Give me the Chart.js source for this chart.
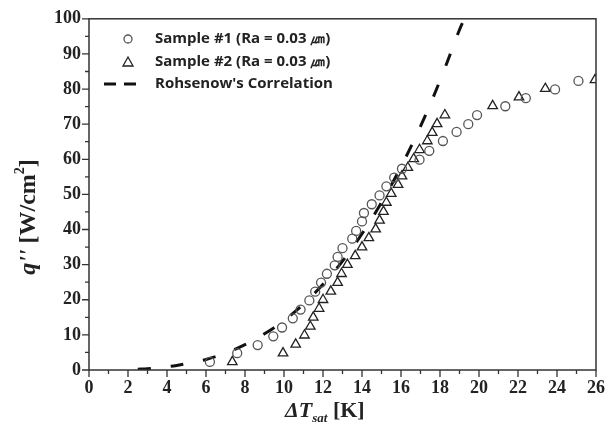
<!DOCTYPE html>
<html>
<head>
<meta charset="utf-8">
<script src="https://cdn.jsdelivr.net/npm/chart.js@4/dist/chart.umd.min.js"></script>
<style>
  body { margin: 0; background: #fff; }
  canvas { display: block; }
</style>
</head>
<body>
<canvas id="boilingChart" width="616" height="438"></canvas>
<script>
// Sample #1 (circles)
const dT1 = [6.2, 7.6, 8.65, 9.45, 9.9, 10.45, 10.85, 11.3, 11.6, 11.9, 12.2, 12.6, 12.75, 13.0, 13.5, 13.7, 14.0, 14.1, 14.5, 14.9, 15.25, 15.65, 16.05, 16.95, 17.45, 18.15, 18.85, 19.45, 19.9, 21.35, 22.4, 23.9, 25.1];
const q1 = [2.3, 4.8, 7.1, 9.6, 12.1, 14.7, 17.2, 19.8, 22.3, 24.9, 27.4, 29.8, 32.2, 34.7, 37.4, 39.6, 42.3, 44.7, 47.2, 49.7, 52.3, 54.8, 57.3, 59.9, 62.4, 65.2, 67.8, 70.0, 72.6, 75.1, 77.4, 79.9, 82.3];

// Sample #2 (triangles)
const dT2 = [7.35, 9.95, 10.6, 11.05, 11.35, 11.5, 11.8, 12.0, 12.4, 12.75, 12.95, 13.25, 13.65, 14.0, 14.35, 14.7, 14.9, 15.1, 15.25, 15.5, 15.85, 16.05, 16.35, 16.65, 16.95, 17.35, 17.6, 17.85, 18.25, 20.7, 22.05, 23.4, 25.95];
const q2 = [2.3, 4.8, 7.3, 9.9, 12.4, 15.0, 17.5, 20.0, 22.4, 24.9, 27.4, 30.0, 32.5, 35.0, 37.6, 40.1, 42.6, 45.1, 47.7, 50.2, 52.8, 55.2, 57.6, 60.1, 62.7, 65.2, 67.6, 70.1, 72.6, 75.2, 77.7, 80.1, 82.6];

// Rohsenow's correlation
const dTr = [2.5, 3, 3.5, 4, 4.5, 5, 6, 7, 8, 9, 10, 11, 12, 13, 14, 15, 16, 17, 18, 19, 19.25];
const qr = [0.22, 0.38, 0.6, 0.9, 1.3, 1.8, 3.0, 4.8, 7.2, 10.3, 14.1, 18.8, 24.4, 31.0, 38.8, 47.7, 57.9, 69.4, 82.4, 96.9, 100];

const legendLabels = ['Sample #1 (Ra = 0.03 \u339B)', 'Sample #2 (Ra = 0.03 \u339B)', "Rohsenow's Correlation"];

function pts(xs, ys) {
    return xs.map((x, i) => ({ x: x, y: ys[i] }));
}

const serif = '"Liberation Serif", "DejaVu Serif", serif';

// frame, minor/major tick marks, axis titles and the legend
const decor = {
    id: 'decor',
    afterDraw(chart) {
        const c = chart.ctx;
        const a = chart.chartArea;
        const xs = chart.scales.x, ys = chart.scales.y;
        c.save();
        c.strokeStyle = '#333';
        c.lineWidth = 1.5;
        c.strokeRect(a.left, a.top, a.right - a.left, a.bottom - a.top);

        c.lineWidth = 1.3;
        c.beginPath();
        for (let v = 0; v <= 26; v++) {
            const px = xs.getPixelForValue(v);
            c.moveTo(px, a.bottom);
            c.lineTo(px, a.bottom + (v % 2 === 0 ? 7 : 4));
        }
        for (let v = 0; v <= 100; v += 5) {
            const py = ys.getPixelForValue(v);
            c.moveTo(a.left, py);
            c.lineTo(a.left - (v % 10 === 0 ? 7 : 4), py);
        }
        c.stroke();

        // x title: ΔT_sat [K]
        c.fillStyle = '#222';
        c.textBaseline = 'alphabetic';
        c.textAlign = 'left';
        let x = 285;
        const by = 417;
        c.font = 'italic bold 22px ' + serif;
        c.fillText('\u0394T', x, by);
        x += c.measureText('\u0394T').width;
        c.font = 'italic bold 13px ' + serif;
        c.fillText('sat', x, by + 5);
        x += c.measureText('sat').width;
        c.font = 'bold 22px ' + serif;
        c.fillText(' [K]', x, by);

        // y title: q'' [W/cm2]
        const parts = [
            { t: "q''", f: 'italic bold 24px ' + serif, dy: 0 },
            { t: ' [W/cm', f: 'bold 24px ' + serif, dy: 0 },
            { t: '2', f: 'bold 14px ' + serif, dy: -11 },
            { t: ']', f: 'bold 24px ' + serif, dy: 0 }
        ];
        let total = 0;
        parts.forEach(p => { c.font = p.f; p.w = c.measureText(p.t).width; total += p.w; });
        c.translate(35, 217);
        c.rotate(-Math.PI / 2);
        let ox = -total / 2;
        parts.forEach(p => {
            c.font = p.f;
            c.fillText(p.t, ox, p.dy);
            ox += p.w;
        });
        c.restore();

        // legend
        c.save();
        c.font = 'bold 15px "Open Sans", sans-serif';
        c.fillStyle = '#222';
        c.textBaseline = 'middle';
        c.lineWidth = 1.3;
        c.strokeStyle = '#555';
        c.beginPath();
        c.arc(128, 39, 4, 0, Math.PI * 2);
        c.stroke();
        c.strokeStyle = '#222';
        c.beginPath();
        c.moveTo(128, 57);
        c.lineTo(133, 66);
        c.lineTo(123, 66);
        c.closePath();
        c.stroke();
        c.lineWidth = 3;
        c.strokeStyle = '#111';
        c.beginPath();
        c.moveTo(104, 84); c.lineTo(116, 84);
        c.moveTo(124, 84); c.lineTo(136, 84);
        c.stroke();
        c.fillText(legendLabels[0], 155, 39);
        c.fillText(legendLabels[1], 155, 62);
        c.fillText(legendLabels[2], 155, 84);
        c.restore();
    }
};

const config = {
    type: 'scatter',
    data: {
        datasets: [{
            label: legendLabels[0],
            data: pts(dT1, q1),
            pointStyle: 'circle',
            pointRadius: 4.5,
            borderColor: '#555',
            backgroundColor: 'rgba(255,255,255,0)',
            borderWidth: 1.3
        }, {
            label: legendLabels[1],
            data: pts(dT2, q2),
            pointStyle: 'triangle',
            pointRadius: 5.5,
            borderColor: '#222',
            backgroundColor: 'rgba(255,255,255,0)',
            borderWidth: 1.3
        }, {
            label: legendLabels[2],
            type: 'line',
            data: pts(dTr, qr),
            showLine: true,
            pointRadius: 0,
            borderColor: '#111',
            borderWidth: 3,
            borderDash: [13, 20],
            tension: 0.4,
            fill: false
        }]
    },
    options: {
        responsive: false,
        animation: false,
        layout: { padding: { left: 0, right: 20, top: 16, bottom: 0 } },
        plugins: {
            legend: { display: false },
            tooltip: { enabled: false }
        },
        scales: {
            x: {
                type: 'linear',
                min: 0,
                max: 26,
                grid: { display: false, drawTicks: false },
                border: { display: false },
                ticks: {
                    stepSize: 2,
                    padding: 8,
                    color: '#222',
                    font: { family: serif, size: 18, weight: 'bold' }
                },
                afterFit(s) { s.height = 68; }
            },
            y: {
                min: 0,
                max: 100,
                grid: { display: false, drawTicks: false },
                border: { display: false },
                ticks: {
                    stepSize: 10,
                    padding: 8,
                    color: '#222',
                    font: { family: serif, size: 18, weight: 'bold' }
                },
                afterFit(s) { s.width = 89; }
            }
        }
    },
    plugins: [decor]
};

let boilingChart = new Chart(document.getElementById('boilingChart'), config);
</script>
</body>
</html>
